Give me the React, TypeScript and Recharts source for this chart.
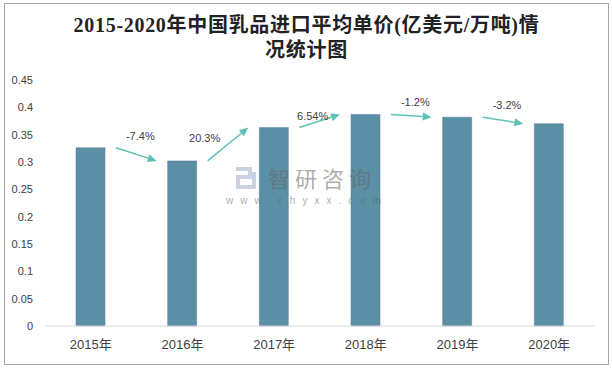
import { BarChart, Bar, XAxis, YAxis, LabelList } from "recharts";

const years = ["2015年", "2016年", "2017年", "2018年", "2019年", "2020年"];
const prices = [0.326, 0.302, 0.363, 0.387, 0.382, 0.37];
const changes = ["-7.4%", "20.3%", "6.54%", "-1.2%", "-3.2%"];
const yTicks = [0, 0.05, 0.1, 0.15, 0.2, 0.25, 0.3, 0.35, 0.4, 0.45];

const data = years.map((year, i) => ({ year, price: prices[i] }));

const W = 613;
const H = 369;
const MARGIN = { top: 80, right: 18, bottom: 13, left: 0 };
const Y_WIDTH = 45;
const STEP = (W - MARGIN.left - MARGIN.right - Y_WIDTH) / years.length;

const ARROW = "#5DC1B6";
const BAR = "#5B8FA6";
const TEXT = "#404040";

const ArrowLabel = (props: any) => {
  const { x, y, width, height, index, value } = props;
  if (index == null || index >= prices.length - 1) return null;
  const base = Number(y) + Number(height);
  const perUnit = Number(height) / Number(value);
  const nextTop = base - prices[index + 1] * perUnit;
  const x1 = Number(x) + Number(width) + 11;
  const y1 = Number(y);
  const x2 = Number(x) + STEP - 11;
  const y2 = nextTop;
  const ang = Math.atan2(y2 - y1, x2 - x1);
  const len = 9;
  const hw = 4;
  const bx = x2 - len * Math.cos(ang);
  const by = y2 - len * Math.sin(ang);
  const px = -Math.sin(ang) * hw;
  const py = Math.cos(ang) * hw;
  const midX = (x1 + x2) / 2;
  // steep rises get their label tucked to the left of the arrow
  const steep = y2 - y1 < -20;
  const lx = steep ? x1 - 3 : midX + (y2 < y1 ? -7 : 4);
  const ly = steep ? y1 - 23 : y1 - 12;
  return (
    <g>
      <line x1={x1} y1={y1} x2={bx} y2={by} stroke={ARROW} strokeWidth={1.5} />
      <polygon
        points={`${x2},${y2} ${bx + px},${by + py} ${bx - px},${by - py}`}
        fill={ARROW}
      />
      <text
        x={lx}
        y={ly}
        textAnchor="middle"
        dominantBaseline="central"
        fontSize={11}
        fill={TEXT}
        fontFamily="'Liberation Sans', 'Noto Sans CJK SC', sans-serif"
      >
        {changes[index]}
      </text>
    </g>
  );
};

const Watermark = () => (
  <svg
    width={W}
    height={H}
    style={{ position: "absolute", left: 0, top: 0, pointerEvents: "none" }}
  >
    <g fill="#C9D1E3">
      <rect x={236} y={167} width={16} height={4} />
      <rect x={248} y={167} width={4} height={10} />
      <rect x={236} y={175} width={16} height={4} />
      <rect x={236} y={175} width={4} height={14} />
      <rect x={236} y={185} width={20} height={4} />
      <rect x={252} y={172} width={4} height={13} />
    </g>
    <text
      x={322}
      y={177}
      textAnchor="middle"
      dominantBaseline="central"
      fontSize={22}
      letterSpacing={5}
      fill="#666"
      fillOpacity={0.55}
      fontFamily="'Noto Sans CJK SC', sans-serif"
    >
      智研咨询
    </text>
    <text
      x={307}
      y={200}
      textAnchor="middle"
      dominantBaseline="central"
      fontSize={10}
      letterSpacing={7}
      fill="#666"
      fillOpacity={0.55}
      fontFamily="'Liberation Sans', sans-serif"
    >
      www.chyxx.com
    </text>
  </svg>
);

export default function App() {
  return (
    <div style={{ position: "absolute", left: 0, top: 0, width: W, height: H, background: "#fff" }}>
      <div
        style={{
          position: "absolute",
          left: 4,
          top: 3,
          width: 603,
          height: 360,
          border: "1px solid #A6A6A6",
        }}
      />
      <div
        style={{
          position: "absolute",
          left: 0,
          top: 13,
          width: W,
          textAlign: "center",
          fontFamily: "'Liberation Serif', 'Noto Sans CJK SC', serif",
          fontWeight: "bold",
          fontSize: 20,
          letterSpacing: 0.7,
          lineHeight: "25px",
          color: "#222",
        }}
      >
        2015-2020年中国乳品进口平均单价(亿美元/万吨)情
        <br />
        况统计图
      </div>
      <div style={{ position: "absolute", left: 0, top: 0 }}>
        <BarChart width={W} height={H} data={data} margin={MARGIN}>
          <XAxis
            dataKey="year"
            height={30}
            tickLine={false}
            tickSize={0}
            tickMargin={14}
            axisLine={{ stroke: "#D9D9D9" }}
            tick={{
              fontSize: 13,
              fill: TEXT,
              fontFamily: "'Liberation Sans', 'Noto Sans CJK SC', sans-serif",
            }}
          />
          <YAxis
            width={Y_WIDTH}
            domain={[0, 0.45]}
            ticks={yTicks}
            interval={0}
            axisLine={false}
            tickLine={false}
            tickSize={0}
            tickMargin={12}
            tick={{
              fontSize: 11,
              fill: TEXT,
              fontFamily: "'Liberation Sans', sans-serif",
            }}
          />
          <Bar
            dataKey="price"
            fill={BAR}
            stroke="#4E7E94"
            strokeWidth={0.5}
            barSize={29}
            isAnimationActive={false}
          >
            <LabelList dataKey="price" content={ArrowLabel} />
          </Bar>
        </BarChart>
      </div>
      <Watermark />
    </div>
  );
}
